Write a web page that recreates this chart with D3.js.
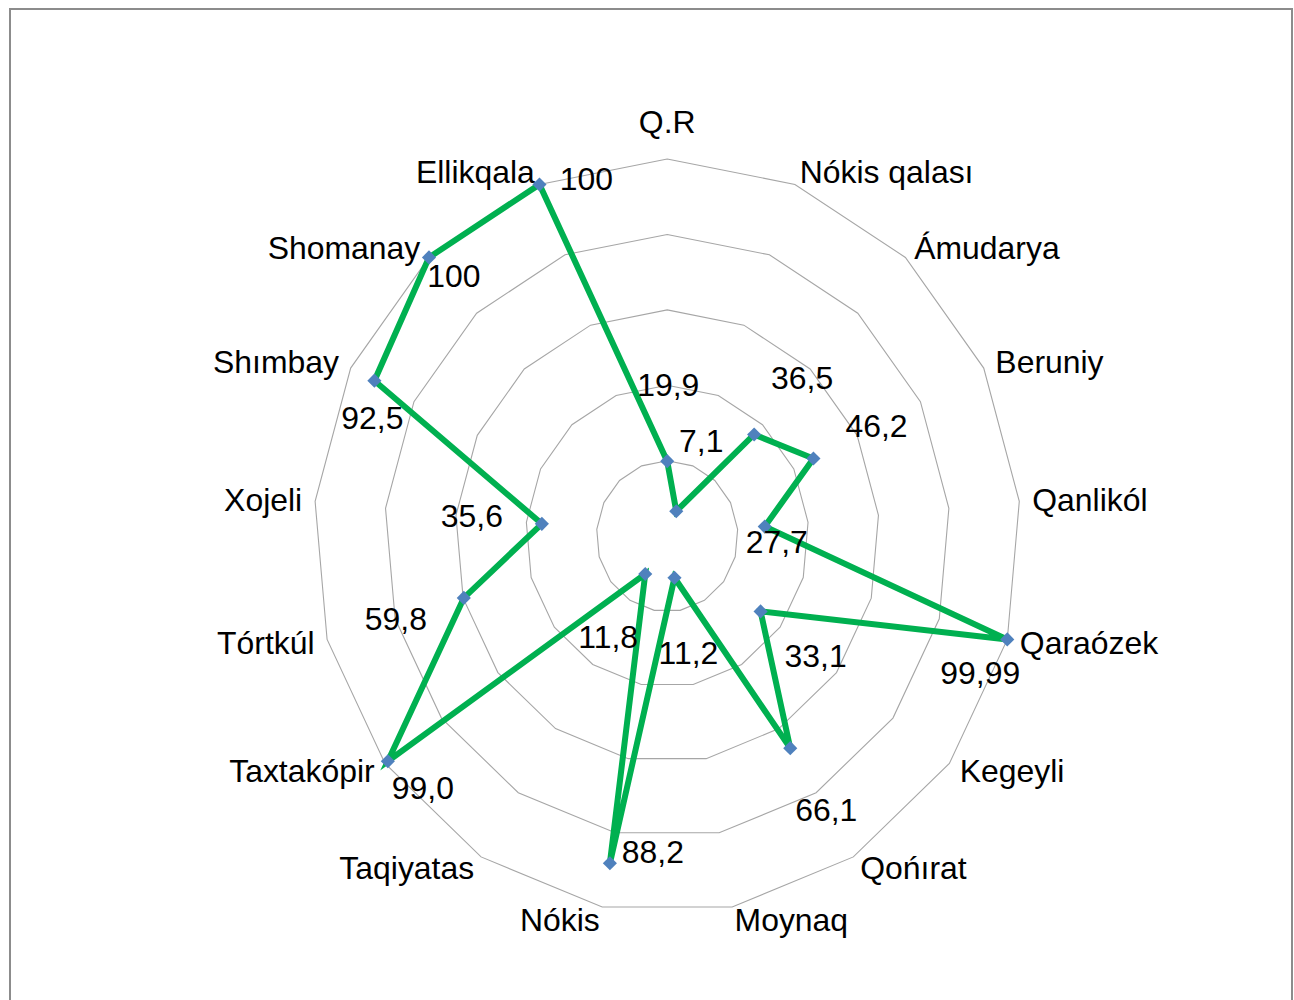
<!DOCTYPE html>
<html><head><meta charset="utf-8">
<script src="https://cdn.jsdelivr.net/npm/d3@7"></script>
<style>
body{margin:0;background:#fff;}
text{font-family:"Liberation Sans",Arial,sans-serif;fill:#000;}
</style>
</head><body>
<svg id="chart" width="1294" height="1000"></svg>
<script>
const categories = ["Q.R","Nókis qalası","Ámudarya","Beruniy","Qanlikól","Qaraózek","Kegeyli","Qońırat","Moynaq","Nókis","Taqiyatas","Taxtakópir","Tórtkúl","Xojeli","Shımbay","Shomanay","Ellikqala"];
const values = [19.9,7.1,36.5,46.2,27.7,99.99,33.1,66.1,11.2,88.2,11.8,99.0,59.8,35.6,92.5,100,100];
const valueLabels = ["19,9","7,1","36,5","46,2","27,7","99,99","33,1","66,1","11,2","88,2","11,8","99,0","59,8","35,6","92,5","100","100"];
const ringTicks = [20,40,60,80,100];

// layout (not data): data-label offsets from their points, in px
const labelOffsets = [[1,-76],[25,-70],[48,-56],[63,-33],[12,15],[-27,34],[55,45],[36,62],[14,75],[43,-11],[-37,63],[35,27],[-68,21],[-70,-8],[-2,37],[25,19],[47,-5]];

const cx = 667.2, cy = 536.2;
const yStretch = 377.2 / 353.6;
const n = categories.length;

const svg = d3.select("#chart");

// frame
svg.append("rect").attr("x",10).attr("y",9).attr("width",1282).attr("height",1100)
  .attr("fill","none").attr("stroke","#8c8c8c").attr("stroke-width",2);

const angle = d3.scaleLinear().domain([0, n]).range([0, 2*Math.PI]);
const r = d3.scaleLinear().domain([0, 100]).range([0, 353.6]);

function pt(i, v){
  const a = angle(i), rr = r(v);
  return [cx + rr*Math.sin(a), cy - rr*yStretch*Math.cos(a)];
}

// grid rings
const ringLine = d3.line().curve(d3.curveLinearClosed);
svg.append("g").selectAll("path").data(ringTicks).join("path")
  .attr("d", t => ringLine(d3.range(n).map(i => pt(i, t))))
  .attr("fill","none").attr("stroke","#a6a6a6").attr("stroke-width",1.1);

// series line
svg.append("path")
  .attr("d", ringLine(values.map((v,i) => pt(i, v))))
  .attr("fill","none").attr("stroke","#00b050").attr("stroke-width",6)
  .attr("stroke-linejoin","miter");

// markers (diamonds)
svg.append("g").selectAll("path").data(values).join("path")
  .attr("transform", (v,i) => { const p = pt(i,v); return `translate(${p[0]},${p[1]}) rotate(45)`; })
  .attr("d", d3.symbol().type(d3.symbolSquare).size(100))
  .attr("fill","#4f81bd");

// category labels
const fs = 31, sx = 1.03;
svg.append("g").selectAll("text").data(categories).join("text")
  .attr("font-size", fs)
  .attr("text-anchor", (d,i) => { const s = Math.sin(angle(i)); return Math.abs(s) < 0.05 ? "middle" : (s > 0 ? "start" : "end"); })
  .attr("transform", (d,i) => {
    const a = angle(i);
    const v = pt(i, 100);
    let x, y;
    if (Math.abs(Math.sin(a)) < 0.05) { x = v[0]; y = v[1] - 37; }
    else { x = v[0] + 13*Math.sin(a); y = v[1] - 13*Math.cos(a); }
    return `translate(${x},${y + 11}) scale(${sx},1)`;
  })
  .text(d => d);

// data labels
svg.append("g").selectAll("text").data(valueLabels).join("text")
  .attr("font-size", fs)
  .attr("text-anchor","middle")
  .attr("transform", (d,i) => {
    const p = pt(i, values[i]);
    return `translate(${p[0] + labelOffsets[i][0]},${p[1] + labelOffsets[i][1] + 11}) scale(${sx},1)`;
  })
  .text(d => d);
</script>
</body></html>
